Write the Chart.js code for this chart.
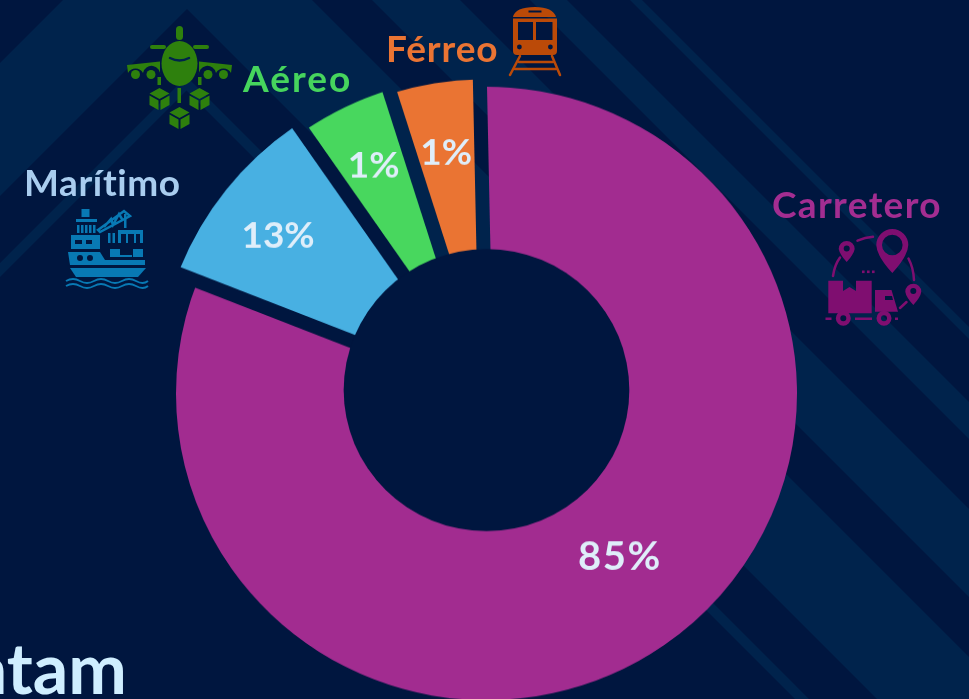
<!DOCTYPE html>
<html lang="es"><head><meta charset="utf-8">
<style>
html,body{margin:0;padding:0;width:969px;height:699px;overflow:hidden;background:#00163f}
#bg{position:absolute;left:0;top:0}
#pie{position:absolute;left:146px;top:53px;width:681px;height:681px;transform:scaleY(.988);transform-origin:50% 50%}
.lab{position:absolute;font:700 37px Lato,sans-serif;line-height:1;white-space:nowrap}
#foot{position:absolute;right:842px;top:632px;font:700 70px Lato,sans-serif;line-height:1;color:#cfeeff;white-space:nowrap}
</style></head><body>
<svg id="bg" width="969" height="699" viewBox="0 0 969 699">
<rect width="969" height="699" fill="#00163f"/>
<g fill="#00234c">
<polygon points="642,0 630,0 1329,699 1341,699"/>
<polygon points="567,0 530,0 1229,699 1266,699"/>
<polygon points="460,0 372,0 1071,699 1159,699"/>
<polygon points="187.5,-124.5 312,0 1011,699 877,699 187,9 -50,246 -50,113"/>
<polygon points="186.5,76.5 795,685 809,699 795,699 186.5,90.5 -50,327 -50,313"/>
</g>
<!-- Aéreo icon -->
<g fill="#2e800d">
<ellipse cx="179.5" cy="63.5" rx="18" ry="22.5"/>
<rect x="176" y="26" width="7" height="14" rx="3.5"/>
<rect x="150" y="45" width="16" height="4" rx="2"/><rect x="193" y="45" width="16" height="4" rx="2"/>
<g id="wing"><path d="M127 65 L160 61.5 L160 76 A8.5 8.5 0 0 0 143 73 A8.5 8.5 0 0 0 128 73 Z"/><circle cx="135.5" cy="74.5" r="4.5"/><circle cx="151" cy="74.5" r="4.5"/><rect x="157.5" y="77" width="3.5" height="8"/></g>
<use href="#wing" transform="translate(359,0) scale(-1,1)"/>
<rect x="177.5" y="88" width="3.5" height="15"/>
<g id="cube" transform="translate(159.5,88)"><path d="M0 0 L10 5.5 L0 11 L-10 5.5Z M-10 7.5 L-1 12.5 L-1 22 L-10 17Z M10 7.5 L1 12.5 L1 22 L10 17Z"/></g>
<use href="#cube" transform="translate(40,0)"/><use href="#cube" transform="translate(20,19)"/>
</g>
<path d="M170 58 Q179.5 63 189 58" fill="none" stroke="#00234c" stroke-width="2.5" stroke-linecap="round"/>
<!-- Marítimo icon -->
<g fill="#0879b4">
<rect x="81.5" y="209" width="8" height="8"/><rect x="76" y="219" width="21" height="3"/>
<rect x="77" y="225" width="2.5" height="8"/><rect x="81" y="225" width="2.5" height="8"/><rect x="85" y="225" width="2.5" height="8"/><rect x="89" y="225" width="2.5" height="8"/><rect x="93" y="225" width="2.5" height="8"/>
<path fill-rule="evenodd" d="M71 235 H100 V249 H71Z M75 240 V244 H82 V240Z M86 240 V244 H92 V240Z"/>
<path fill-rule="evenodd" d="M68 252 H100 L105 260 H145 V265 H70Z M77 258 a3 3 0 1 0 6 0 a3 3 0 1 0 -6 0Z M87 258 a3 3 0 1 0 6 0 a3 3 0 1 0 -6 0Z"/>
<path d="M70 268 H146 L138 277 H76Z"/>
<rect x="110" y="249" width="10" height="8"/><rect x="133" y="249" width="10" height="8"/><rect x="120" y="255" width="12" height="2"/>
<rect x="108" y="233" width="2.5" height="10"/><rect x="112.5" y="233" width="2.5" height="10"/>
<path fill-rule="evenodd" d="M118 230 H143 V243 H140 V234 H136 V243 H134 V234 H128 V243 H126 V234 H121 V243 H118Z"/>
<rect x="124" y="214" width="2.5" height="14"/>
</g>
<g fill="none" stroke="#0879b4">
<path stroke-width="2.5" d="M98 230 L124 211 L130 216 L100 232Z M104 227 L111 219 L113 225 L119 214 L122 219"/>
<path stroke-width="2" d="M66 281 q7 -4 14 0 t14 0 t14 0 t14 0 t14 0 t12 0"/>
<path stroke-width="2" d="M66 286 q7 -4 14 0 t14 0 t14 0 t14 0 t14 0 t12 0"/>
</g>
<!-- Férreo icon -->
<g fill="#bb4a08">
<path fill-rule="evenodd" d="M513 17 Q515 7 535 7 Q553 7 556 17Z M528.5 10.5 V12.5 H541.5 V10.5Z"/>
<path fill-rule="evenodd" d="M513 18.5 H557 V51 Q557 55 553 55 H517 Q513 55 513 51Z M518 22 V40 H533 V22Z M536 22 V40 H552.5 V22Z M517 47 a2.4 2.4 0 1 0 4.8 0 a2.4 2.4 0 1 0 -4.8 0Z M548 47 a2.4 2.4 0 1 0 4.8 0 a2.4 2.4 0 1 0 -4.8 0Z"/>
</g>
<g stroke="#bb4a08" stroke-width="2.5" stroke-linecap="round" fill="none">
<path d="M520 56 L510 75 M552 56 L560 75"/><path d="M519 62 H553 M515 69 H556"/>
</g>
<!-- Carretero icon -->
<g fill="#7f0e70">
<path fill-rule="evenodd" d="M876.3 245 A16 16 0 1 1 908.3 245 Q908 256 892.3 273 Q876.6 256 876.3 245Z M882 245 a10.3 10.3 0 1 0 20.6 0 a10.3 10.3 0 1 0 -20.6 0Z"/>
<path fill-rule="evenodd" d="M838.7 249 A8 8 0 1 1 854.7 249 Q854 254 846.7 262 Q839.4 254 838.7 249Z M843.7 248.5 a3 3 0 1 0 6 0 a3 3 0 1 0 -6 0Z"/>
<path fill-rule="evenodd" d="M905.3 291.7 A8 8 0 1 1 921.3 291.7 Q920.6 297 913.3 305 Q906 297 905.3 291.7Z M910.3 291 a3 3 0 1 0 6 0 a3 3 0 1 0 -6 0Z"/>
<rect x="862" y="270.5" width="2.6" height="2.6"/><rect x="867" y="270.5" width="2.6" height="2.6"/><rect x="872" y="270.5" width="2.6" height="2.6"/>
<path fill-rule="evenodd" d="M828.3 280.7 H843 V291 L849.5 287 L856 291 V280.7 H871.7 V313.3 H828.3Z"/>
<path fill-rule="evenodd" d="M875 290 H891.5 L898 311.7 H875Z M885 296 V300 H893 L892 296Z"/>
<path fill-rule="evenodd" d="M835.8 318.3 a7.5 7.5 0 1 0 15 0 a7.5 7.5 0 1 0 -15 0Z M840.3 318.3 a3 3 0 1 0 6 0 a3 3 0 1 0 -6 0Z"/>
<path fill-rule="evenodd" d="M876.5 318.3 a7.5 7.5 0 1 0 15 0 a7.5 7.5 0 1 0 -15 0Z M881 318.3 a3 3 0 1 0 6 0 a3 3 0 1 0 -6 0Z"/>
<rect x="825.5" y="317.5" width="6" height="2.5"/><rect x="855" y="317.5" width="17" height="2.5"/><rect x="895" y="317.5" width="3" height="2.5"/>
</g>
<g fill="none" stroke="#7f0e70" stroke-width="2.5" stroke-linecap="round">
<path d="M833 276 Q834.5 265 840 257.5"/><path d="M857.5 240.7 Q865 237.5 873 236.8"/><path d="M908.5 258.5 Q913.5 268 914 280"/><path d="M900 308 L906.5 302"/>
</g>
</svg>
<canvas id="pie" width="681" height="681"></canvas>
<div id="foot">Latam</div>
<script src="https://cdn.jsdelivr.net/npm/chart.js@4"></script>
<script>
// Data
const categories = ['Carretero', 'Marítimo', 'Aéreo', 'Férreo'];
const sliceShares = [81.3, 9.4, 4.75, 4.55];        // drawn angular size of each slice
const percentLabels = ['85%', '13%', '1%', '1%'];   // printed labels
const sliceColors = ['#a22c90', '#48b0e2', '#48d75e', '#ea7433'];
const labelColors = ['#a32d91', '#a9cdef', '#46d55d', '#ea7433'];
const sliceOffsets = [0, 60, 28, 18];
const labelRadiusRatio = [0.685, 0.845, 0.825, 0.795];
const labelAngleShift = [-4, -1, 0, 0];
const labelTracking = [1.5, 0, 0, 0];
const labelSizes = [40, 37, 37, 37];
const labelPlaces = [[772, 185], [24, 163], [243, 59], [386, 29]];
const nameTracking = [1.35, 0.6, 2, 0.9];

categories.forEach((name, i) => {
  const d = document.createElement('div');
  d.className = 'lab';
  d.textContent = name;
  d.style.left = labelPlaces[i][0] + 'px';
  d.style.top = labelPlaces[i][1] + 'px';
  d.style.color = labelColors[i];
  d.style.letterSpacing = nameTracking[i] + 'px';
  document.body.appendChild(d);
});

const GAP = 14;
const sliceFinish = {
  id: 'sliceFinish',
  afterDatasetsDraw(chart) {
    const ctx = chart.ctx, arcs = chart.getDatasetMeta(0).data;
    const cx = arcs[0].x, cy = arcs[0].y, R = arcs[0].outerRadius;
    ctx.save();
    // parallel-sided gaps that let the background show through
    ctx.globalCompositeOperation = 'destination-out';
    ctx.lineWidth = GAP;
    ctx.strokeStyle = '#000';
    arcs.forEach(a => {
      ctx.beginPath();
      ctx.moveTo(cx, cy);
      ctx.lineTo(cx + Math.cos(a.startAngle) * 420, cy + Math.sin(a.startAngle) * 420);
      ctx.stroke();
    });
    ctx.globalCompositeOperation = 'source-over';
    // solid centre
    ctx.fillStyle = '#00163f';
    ctx.beginPath();
    ctx.arc(cx, cy - 3.5, R * 0.46, 0, Math.PI * 2);
    ctx.fill();
    // percentages
    ctx.fillStyle = '#dfeefa';
    ctx.textAlign = 'center';
    ctx.textBaseline = 'middle';
    arcs.forEach((a, i) => {
      const m = (a.startAngle + a.endAngle) / 2 + labelAngleShift[i] * Math.PI / 180, r = R * labelRadiusRatio[i];
      ctx.font = '700 ' + labelSizes[i] + 'px Lato, sans-serif';
      ctx.letterSpacing = labelTracking[i] + 'px';
      ctx.fillText(percentLabels[i], cx + Math.cos(m) * r, cy + Math.sin(m) * r);
    });
    ctx.restore();
  }
};

new Chart(document.getElementById('pie'), {
  type: 'doughnut',
  data: {
    labels: categories,
    datasets: [{ data: sliceShares, backgroundColor: sliceColors, borderWidth: 0, offset: sliceOffsets }]
  },
  options: {
    responsive: false,
    animation: false,
    cutout: '30%',
    rotation: -1.2,
    layout: { padding: 0 },
    plugins: { legend: { display: false }, tooltip: { enabled: false } }
  },
  plugins: [sliceFinish]
});
</script>
</body></html>
